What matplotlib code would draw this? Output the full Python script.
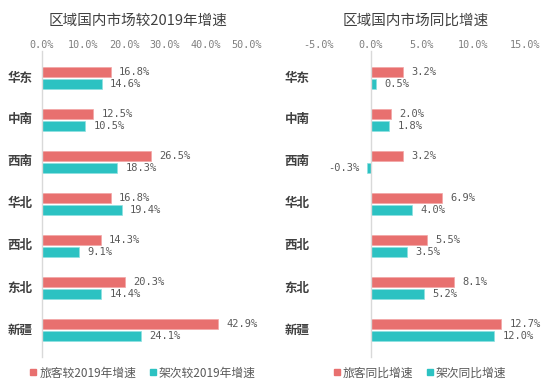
import matplotlib
matplotlib.use('Agg')
import matplotlib.pyplot as plt
from matplotlib.lines import Line2D
from matplotlib.transforms import blended_transform_factory
import numpy as np

plt.rcParams['font.family'] = ['Noto Sans CJK SC', 'DejaVu Sans']

regions = ['华东', '中南', '西南', '华北', '西北', '东北', '新疆']

# vs 2019 growth (%)
pax_vs2019 = [16.8, 12.5, 26.5, 16.8, 14.3, 20.3, 42.9]
flt_vs2019 = [14.6, 10.5, 18.3, 19.4, 9.1, 14.4, 24.1]

# year-on-year growth (%)
pax_yoy = [3.2, 2.0, 3.2, 6.9, 5.5, 8.1, 12.7]
flt_yoy = [0.5, 1.8, -0.3, 4.0, 3.5, 5.2, 12.0]

titles = ['区域国内市场较2019年增速', '区域国内市场同比增速']
legend_names = [['旅客较2019年增速', '架次较2019年增速'],
                ['旅客同比增速', '架次同比增速']]
x_ranges = [(0, 50, 10), (-5, 15, 5)]

red = '#E8706F'
teal = '#2CC2C2'
grey_txt = '#595959'

fig = plt.figure(figsize=(5.54, 3.92), dpi=100)
W, H = 554, 392
bottom = 1 - 351 / H
height = (351 - 57) / H
ax1 = fig.add_axes([42 / W, bottom, 205 / W, height])
ax2 = fig.add_axes([319 / W, bottom, 206 / W, height])

y = np.arange(len(regions))
bh = 0.24
off = 0.15

panels = [(ax1, pax_vs2019, flt_vs2019), (ax2, pax_yoy, flt_yoy)]
for i, (ax, a, b) in enumerate(panels):
    lo, hi, step = x_ranges[i]
    ax.barh(y - off, a, height=bh, color=red, edgecolor='#F2A5A5', linewidth=0.5)
    ax.barh(y + off, b, height=bh, color=teal, edgecolor='#8FE0E0', linewidth=0.5)
    ax.set_xlim(lo, hi)
    ax.set_ylim(len(regions) - 0.5, -0.5)
    ax.xaxis.tick_top()
    ticks = np.arange(lo, hi + 0.01, step)
    ax.set_xticks(ticks)
    ax.set_xticklabels([f'{t:.1f}%' for t in ticks], family='DejaVu Sans Mono',
                       fontsize=7.3, color='#7F7F7F')
    ax.tick_params(axis='x', length=0, pad=5)
    ax.set_yticks([])
    for s in ['top', 'right', 'bottom', 'left']:
        ax.spines[s].set_visible(False)
    ax.axvline(0, color='#D9D9D9', lw=1, ymin=-0.02, ymax=1.02, clip_on=False)

    # category labels at the left edge of the plot area
    tr = blended_transform_factory(ax.transAxes, ax.transData)
    for yy, name in zip(y, regions):
        ax.text(-0.045, yy, name, transform=tr, ha='right', va='center',
                fontsize=9, fontweight='bold', color='#404040')

    # value labels
    for vals, dy in ((a, -off), (b, off)):
        for yy, v in zip(y, vals):
            if v >= 0:
                ax.annotate(f'{v:.1f}%', (v, yy + dy), xytext=(6, 0),
                            textcoords='offset points', ha='left', va='center',
                            family='DejaVu Sans Mono', fontsize=7.5, color=grey_txt)
            else:
                ax.annotate(f'{v:.1f}%', (v, yy + dy), xytext=(-6, 0),
                            textcoords='offset points', ha='right', va='center',
                            family='DejaVu Sans Mono', fontsize=7.5, color=grey_txt)

fig.text(138 / W, 1 - 21 / H, titles[0], ha='center', va='center',
         fontsize=10.5, color='#404040')
fig.text(416 / W, 1 - 21 / H, titles[1], ha='center', va='center',
         fontsize=10.5, color='#404040')

for ax, names, cx in ((ax1, legend_names[0], 142), (ax2, legend_names[1], 419)):
    handles = [Line2D([], [], marker='s', ls='', color=red, markersize=5),
               Line2D([], [], marker='s', ls='', color=teal, markersize=5)]
    fig.legend(handles, names, loc='center', bbox_to_anchor=(cx / W, 1 - 373 / H),
               ncol=2, frameon=False, fontsize=8.5, labelcolor=grey_txt,
               handletextpad=0.1, columnspacing=1.0, handlelength=0.8)

fig.savefig('out.png', dpi=100)
